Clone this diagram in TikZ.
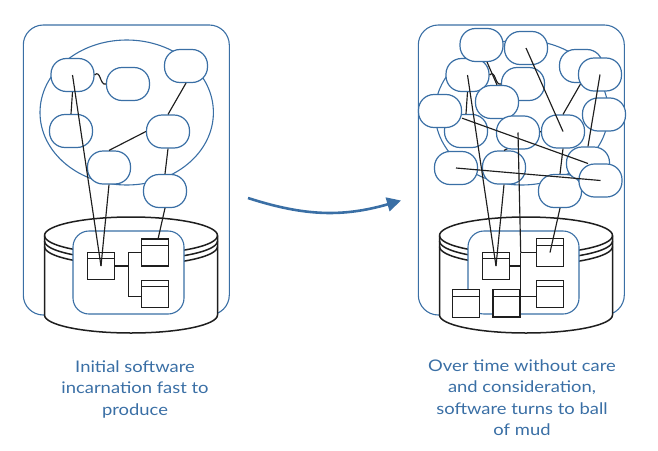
\documentclass[tikz,border=0pt]{standalone}
\usepackage{fontspec}
\setmainfont{Lato}[FakeStretch=1.15]
\usetikzlibrary{arrows.meta}
\definecolor{mudblue}{RGB}{58,111,165}
\definecolor{ink}{RGB}{30,30,30}
\tikzset{
  frame/.style   = {draw=mudblue, line width=1.1pt, rounded corners=20pt},
  ball/.style    = {draw=mudblue, line width=1.1pt},
  blob/.style    = {draw=mudblue, fill=white, line width=1.2pt, rounded corners=15.5pt,
                    minimum width=43pt, minimum height=33pt, inner sep=0pt},
  store/.style   = {draw=ink, line width=1.5pt},
  card/.style    = {draw=ink, fill=white, line width=1.1pt, minimum width=27pt,
                    minimum height=27.5pt, inner sep=0pt,
                    path picture={\draw[ink, line width=1.1pt]
                      ([yshift=-6.5pt]path picture bounding box.north west) --
                      ([yshift=-6.5pt]path picture bounding box.north east);}},
  link/.style    = {draw=ink, line width=1.15pt},
  drift/.style   = {draw=mudblue, line width=2.6pt, -{Triangle[length=14pt,width=14pt]}},
  caption/.style = {text=mudblue, align=center, inner sep=0pt,
                    font=\fontsize{16}{21.5}\selectfont}
}

\begin{document}
\begin{tikzpicture}[x=1pt,y=-1pt]
\useasboundingbox (0,0) rectangle (658,450);

% the two systems, same start
\foreach \p/\s/\j in {l/0/128.3, r/395/125.7}{
\begin{scope}[shift={(\s,0)}]
  \draw[frame] (23.3,25) rectangle (229.3,315);
  \draw[ball] (126.7,112.5) ellipse[x radius=86.7, y radius=72.5];
  % database
  \draw[store, fill=white] (44.5,235.5) -- (44.5,315)
    arc[start angle=180, end angle=0, x radius=86.5, y radius=18] -- (217.5,235.5)
    arc[start angle=0, end angle=-180, x radius=86.5, y radius=18.5] -- cycle;
  \draw[store] (44.5,235.5) arc[start angle=180, end angle=0, x radius=86.5, y radius=18.5];
  \draw[store] (44.5,241) arc[start angle=180, end angle=0, x radius=86.5, y radius=18.5];
  \draw[store] (44.5,246.5) arc[start angle=180, end angle=0, x radius=86.5, y radius=18.5];
  \draw[frame, rounded corners=16pt, fill=white] (73,231) rectangle (184,314);
  % tables
  \node[card] (\p-A) at (101,266) {};
  \node[card] (\p-B) at (155,252.5) {};
  \node[card] (\p-C) at (155,294) {};
  \coordinate (\p-top) at (\j,252.5);
  \coordinate (\p-bot) at (\j,296.5);
  \draw[link] (\p-A.east) -- (\p-A.east -| \p-top);
  \draw[link] (\p-top) -- (\p-bot);
  \draw[link] (\p-top) -- (\p-B.west);
  \draw[link] (\p-bot) -- (\p-bot -| \p-C.west);
  % components
  \node[blob] (\p-o1) at (72.5,75) {};
  \node[blob] (\p-o2) at (128,84) {};
  \node[blob] (\p-o3) at (186,66) {};
  \node[blob] (\p-o4) at (71,131) {};
  \node[blob] (\p-o5) at (168,131.5) {};
  \node[blob] (\p-o6) at (109,167.5) {};
  \node[blob] (\p-o7) at (165,191) {};
  \draw[link] (\p-o1.center) -- (\p-A.center);
  \draw[link] (\p-o1.south) -- (\p-o4.north);
  \draw[link] (\p-o1.east) .. controls +(6,-6) and +(-6,2) .. (\p-o2.west);
  \draw[link] (\p-o3.south) -- (\p-o5.north);
  \draw[link] (\p-o5.west) -- (\p-o6.north);
  \draw[link] (\p-o5.south) -- (\p-o7.north);
  \draw[link] (\p-o6.south) -- (\p-A.center);
  \draw[link] (\p-o7.south) -- (\p-B.center);
\end{scope}
}
\node[card, line width=1.8pt] at (l-B) {};

% later additions
\node[card] (r-D) at (465.8,303.3) {};
\node[card, line width=1.8pt] (r-E) at (506.7,303.3) {};
\node[blob] (n1) at (481.5,45) {};
\node[blob] (n2) at (526,48) {};
\node[blob] (n3) at (600,74.5) {};
\node[blob] (n4) at (497,102) {};
\node[blob] (n5) at (440,111) {};
\node[blob] (n6) at (604,114.5) {};
\node[blob] (n7) at (518,132.5) {};
\node[blob] (n8) at (588,163.5) {};
\node[blob] (n9) at (456,168) {};
\node[blob] (n10) at (600.5,180.5) {};
\draw[link] (n1.288) -- (n4.north);
\draw[link] (n2.center) -- (r-o5.center);
\draw[link] (n3.center) -- (n8.north);
\draw[link] (n5.-18) -- (n8.center);
\draw[link] (n9.center) -- (n10.center);
\draw[link] (n7.center) -- (r-top);

% the drift
\coordinate (push) at (248,198);
\coordinate (land) at (401,200.5);
\draw[drift] (push) to[bend right=17] (land);

\node[caption, anchor=north] (lcap) at (135,360.5) {Initial software\\incarnation fast to\\produce};
\node[caption, anchor=north] (rcap) at (522,359.5) {Over time without care\\and consideration,\\software turns to ball\\of mud};
\end{tikzpicture}
\end{document}
